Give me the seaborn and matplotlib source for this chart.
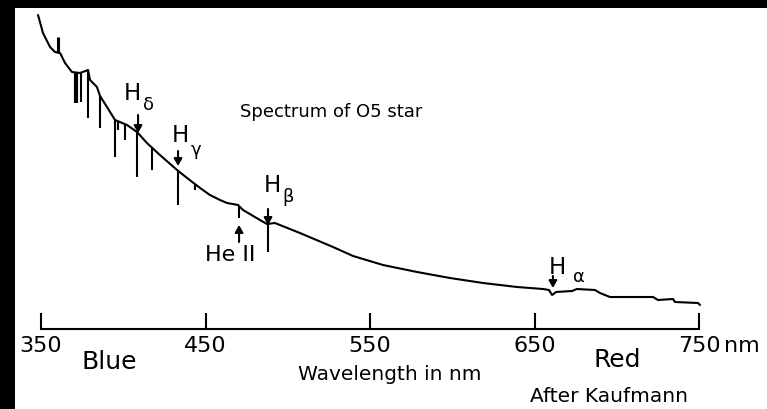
import numpy as np
import pandas as pd
import matplotlib
matplotlib.use("Agg")
import matplotlib.pyplot as plt
from matplotlib.patches import Rectangle
import seaborn as sns

# ---- data ----
# continuum of the O5 star spectrum: wavelength (nm) and relative intensity (arbitrary units)
wavelength = [348.2, 351.2, 355.5, 358.5, 361.6, 364.6, 368.8, 373.7, 378.6, 379.8,
              384.0, 385.9, 390.1, 395.0, 402.3, 408.4, 414.4, 422.3, 432.7, 438.8,
              446.7, 452.7, 458.8, 463.1, 469.8, 472.8, 483.1, 487.4, 492.2, 507.4,
              527.5, 539.7, 557.9, 578.6, 598.6, 618.7, 639.4, 655.2, 658.8, 660.7,
              663.1, 672.8, 675.8, 686.8, 689.8, 695.9, 722.0, 725.1, 734.2, 735.4,
              749.4, 750.6]
intensity = [314, 296, 282, 277, 276, 266, 257, 256, 259, 249,
             242, 233, 222, 209, 204, 197, 186, 174, 159, 151,
             141, 134, 129, 126, 124, 119, 109, 105, 106, 96,
             82, 73, 64, 57, 51, 46, 42, 40, 39, 34,
             37, 38, 40, 39, 36, 32, 32, 29, 30, 27,
             26, 24]

# narrow spectral lines: wavelength and intensity at the line core
line_wavelength = [360.3, 371.0, 374.3, 378.6, 385.9, 395.0, 396.8, 401.1, 408.4,
                   417.5, 433.3, 443.6, 470.4, 488.0]
line_core = [292, 226, 227, 211, 201, 172, 199, 189, 152,
             159, 124, 139, 111, 77]
line_width = [2.2, 3.0, 1.5, 1.5, 1.5, 1.5, 1.5, 1.5, 1.5,
              1.5, 1.5, 1.5, 1.5, 1.5]

# line identifications
line_names = ["H", "H", "H", "H"]
line_subs = ["\u03b4", "\u03b3", "\u03b2", "\u03b1"]
label_wl = [409.0, 433.3, 488.0, 661.2]

tick_values = [350, 450, 550, 650, 750]
tick_labels = ["350", "450", "550", "650", "750"]

df = pd.DataFrame({"wavelength": wavelength, "intensity": intensity})

# ---- figure ----
sns.set_theme(style="white")
plt.rcParams["font.family"] = ["DejaVu Sans"]
plt.rcParams["text.color"] = "black"

W, H, DPI = 767, 409, 100
fig = plt.figure(figsize=(W / DPI, H / DPI), dpi=DPI, facecolor="white")
ax = fig.add_axes([0, 0, 1, 1])
ax.patch.set_alpha(0)

# pixel geometry of the reference: 350 nm at x=41 px, 750 nm at x=699 px; axis at y=329 px
px_per_nm = (699 - 41) / 400.0
ax.set_xlim(350 - 41 / px_per_nm, 350 + (W - 41) / px_per_nm)
ax.set_ylim(329 - H, 329)

sns.lineplot(data=df, x="wavelength", y="intensity", sort=False, color="black",
             lw=1.5, ax=ax, estimator=None)

cont_at_line = np.interp(line_wavelength, wavelength, intensity)
for wl, top, core, lw in zip(line_wavelength, cont_at_line, line_core, line_width):
    ax.vlines(wl, min(top, core), max(top, core), color="black", lw=lw)

# axis
for s in ["left", "top", "right"]:
    ax.spines[s].set_visible(False)
ax.spines["bottom"].set_position(("data", 0))
ax.spines["bottom"].set_bounds(350, 750)
ax.spines["bottom"].set_linewidth(1.5)
ax.spines["bottom"].set_color("black")
ax.set_xticks(tick_values)
ax.set_xticklabels(tick_labels)
ax.set_yticks([])
ax.tick_params(axis="x", direction="in", length=11.5, width=1.5, color="black",
               pad=5, labelsize=16, labelcolor="black", bottom=True)
ax.set_xlabel("")
ax.set_ylabel("")

def dx(px):
    return 350 + (px - 41) / px_per_nm

def dy(py):
    return 329 - py

TXT = dict(ha="center", va="center", color="black")

# arrows and labels of lines
arrow_kw = dict(arrowstyle="-|>,head_length=0.35,head_width=0.2", color="black", lw=1.5,
                shrinkA=0, shrinkB=0, mutation_scale=12)
# H-delta
ax.annotate("", xy=(label_wl[0], dy(133)), xytext=(label_wl[0], dy(115)), arrowprops=arrow_kw)
ax.text(dx(132), dy(93), line_names[0], fontsize=16.5, **TXT)
ax.text(dx(148), dy(105), line_subs[0], fontsize=13, **TXT)
# H-gamma
ax.annotate("", xy=(label_wl[1], dy(166)), xytext=(label_wl[1], dy(151)), arrowprops=arrow_kw)
ax.text(dx(180), dy(135), line_names[1], fontsize=16.5, **TXT)
ax.text(dx(196), dy(150), line_subs[1], fontsize=13, **TXT)
# H-beta
ax.annotate("", xy=(label_wl[2], dy(225)), xytext=(label_wl[2], dy(209)), arrowprops=arrow_kw)
ax.text(dx(272), dy(186), line_names[2], fontsize=16.5, **TXT)
ax.text(dx(288), dy(197), line_subs[2], fontsize=13, **TXT)
# He II (arrow points up)
ax.annotate("", xy=(line_wavelength[12], dy(225)), xytext=(line_wavelength[12], dy(242)),
            arrowprops=arrow_kw)
ax.text(dx(230), dy(255), "He II", fontsize=16, **TXT)
# H-alpha
ax.annotate("", xy=(label_wl[3], dy(288)), xytext=(label_wl[3], dy(276)), arrowprops=arrow_kw)
ax.text(dx(557), dy(268), line_names[3], fontsize=16.5, **TXT)
ax.text(dx(579), dy(277), line_subs[3], fontsize=13, **TXT)

# other text
ax.text(dx(331), dy(112), "Spectrum of O5 star", fontsize=13, **TXT)
ax.text(dx(742), dy(346), "nm", fontsize=16, **TXT)
ax.text(dx(109), dy(362), "Blue", fontsize=18, **TXT)
ax.text(dx(617), dy(360), "Red", fontsize=18, **TXT)
ax.text(dx(390), dy(375), "Wavelength in nm", fontsize=14.5, **TXT)
ax.text(dx(609), dy(396), "After Kaufmann", fontsize=14.5, **TXT)

# black frame on top and left edges
fig.add_artist(Rectangle((0, 0), 15 / W, 1, transform=fig.transFigure,
                         facecolor="black", edgecolor="none", zorder=10))
fig.add_artist(Rectangle((0, 1 - 8 / H), 1, 8 / H, transform=fig.transFigure,
                         facecolor="black", edgecolor="none", zorder=10))

fig.savefig("out.png", dpi=DPI, facecolor="white")
